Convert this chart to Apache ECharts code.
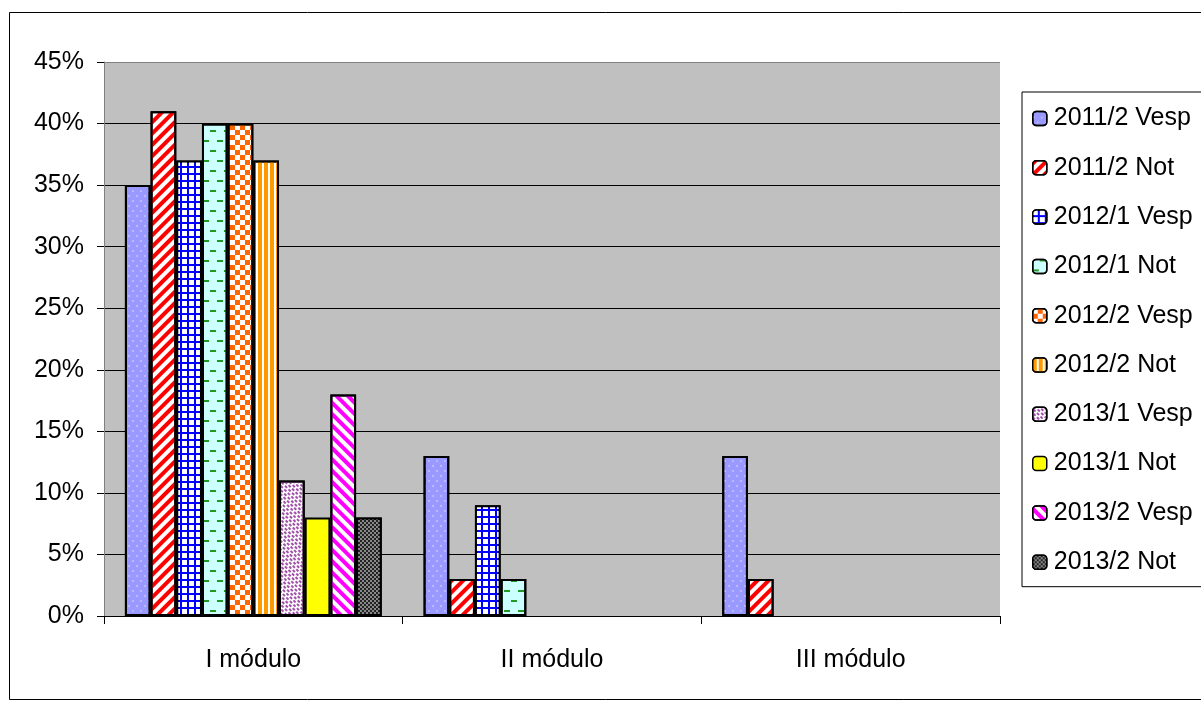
<!DOCTYPE html>
<html>
<head>
<meta charset="utf-8">
<script src="https://cdn.jsdelivr.net/npm/echarts@6/dist/echarts.min.js"></script>
<style>
html,body{margin:0;padding:0;background:#fff;}
#chart{width:1201px;height:704px;}
</style>
</head>
<body>
<div id="chart"></div>
<script>
const categories = ['I módulo', 'II módulo', 'III módulo'];
const seriesNames = ['2011/2 Vesp', '2011/2 Not', '2012/1 Vesp', '2012/1 Not', '2012/2 Vesp',
  '2012/2 Not', '2013/1 Vesp', '2013/1 Not', '2013/2 Vesp', '2013/2 Not'];
const s2011_2Vesp = [35, 13, 13];
const s2011_2Not  = [41, 3, 3];
const s2012_1Vesp = [37, 9, null];
const s2012_1Not  = [40, 3, null];
const s2012_2Vesp = [40, null, null];
const s2012_2Not  = [37, null, null];
const s2013_1Vesp = [11, null, null];
const s2013_1Not  = [8, null, null];
const s2013_2Vesp = [18, null, null];
const s2013_2Not  = [8, null, null];
const yTicks = [0, 5, 10, 15, 20, 25, 30, 35, 40, 45];

const seriesData = [s2011_2Vesp, s2011_2Not, s2012_1Vesp, s2012_1Not, s2012_2Vesp,
  s2012_2Not, s2013_1Vesp, s2013_1Not, s2013_2Vesp, s2013_2Not];

const styles = [
  {color: '#9999FF', decal: {symbol: 'circle', symbolSize: 0.7, color: 'rgba(255,255,255,0.85)',
    dashArrayX: [[2, 6], [0, 4, 2, 2]], dashArrayY: [2, 3]}},
  {color: '#FFFFFF', decal: {symbol: 'rect', symbolSize: 1, color: '#FF0000',
    dashArrayX: [[1, 0]], dashArrayY: [4, 4], rotation: -Math.PI / 4}},
  {color: '#0000FF', decal: {symbol: 'rect', symbolSize: 1, color: '#FFFFFF',
    dashArrayX: [[5, 2]], dashArrayY: [5, 2]}},
  {color: '#CCFFFF', decal: {symbol: 'rect', symbolSize: 1, color: '#229922',
    dashArrayX: [[6, 8], [0, 7, 6, 1]], dashArrayY: [2, 8]}},
  {color: '#FFFFFF', decal: {symbol: 'rect', symbolSize: 1, color: '#FF6600',
    dashArrayX: [[5, 5], [0, 5, 5, 0]], dashArrayY: [5, 0]}},
  {color: '#FFFFFF', decal: {symbol: 'rect', symbolSize: 1, color: '#FF9900',
    dashArrayX: [[4, 2]], dashArrayY: [1, 0]}},
  {color: '#FFFFFF', decal: {symbol: 'rect', symbolSize: 1, color: '#A050A8',
    dashArrayX: [[3, 2], [0, 2, 3, 0]], dashArrayY: [2, 1], rotation: Math.PI / 4}},
  {color: '#FFFF00'},
  {color: '#FFFFFF', decal: {symbol: 'rect', symbolSize: 1, color: '#FF00FF',
    dashArrayX: [[1, 0]], dashArrayY: [4, 4], rotation: Math.PI / 4}},
  {color: '#222222', decal: {symbol: 'circle', symbolSize: 0.9, color: '#BBBBBB',
    dashArrayX: [[2, 2], [0, 2, 2, 0]], dashArrayY: [2, 0]}}
];

const chart = echarts.init(document.getElementById('chart'));
const FONT = 'Liberation Sans, Arial, sans-serif';

const series = seriesNames.map((name, i) => ({
  name: name,
  type: 'bar',
  data: seriesData[i],
  barGap: '0%',
  barCategoryGap: '14%',
  itemStyle: Object.assign({borderColor: '#000', borderWidth: 2}, styles[i]),
  emphasis: {disabled: true},
  animation: false
}));

const splitColors = yTicks.map((v, i) => i === yTicks.length - 1 ? '#808080' : '#000');

chart.setOption({
  animation: false,
  aria: {enabled: false, decal: {show: true}},
  backgroundColor: '#fff',
  textStyle: {fontFamily: FONT},
  graphic: [{
    type: 'rect', silent: true, z: -10,
    shape: {x: 9.5, y: 12.5, width: 1200, height: 687},
    style: {fill: 'none', stroke: '#000', lineWidth: 1}
  }],
  grid: {left: 104, top: 62, right: 201, bottom: 88, show: true,
    backgroundColor: '#C0C0C0', borderWidth: 0},
  legend: {
    orient: 'vertical', left: 1022, top: 92,
    data: seriesNames,
    itemWidth: 14, itemHeight: 14, itemGap: 24.3,
    padding: [14, 30, 12, 10],
    borderColor: '#000', borderWidth: 1, backgroundColor: '#fff',
    textStyle: {fontSize: 25, color: '#000', fontFamily: FONT, padding: [0, 0, 0, 2]},
    itemStyle: {borderColor: '#000', borderWidth: 1.5},
    selectedMode: false
  },
  xAxis: {
    type: 'category', data: categories,
    axisLine: {lineStyle: {color: '#000', width: 1}},
    axisTick: {show: true, length: 8, lineStyle: {color: '#000'}},
    axisLabel: {fontSize: 25, color: '#000', margin: 32, fontFamily: FONT}
  },
  yAxis: {
    type: 'value', min: 0, max: 45, interval: 5,
    axisLine: {show: true, lineStyle: {color: '#808080', width: 1}},
    axisTick: {show: true, length: 7, lineStyle: {color: '#000'}},
    axisLabel: {fontSize: 25, color: '#000', margin: 20, formatter: '{value}%', fontFamily: FONT},
    splitLine: {show: true, lineStyle: {color: splitColors, width: 1}}
  },
  series: series
});
</script>
</body>
</html>
